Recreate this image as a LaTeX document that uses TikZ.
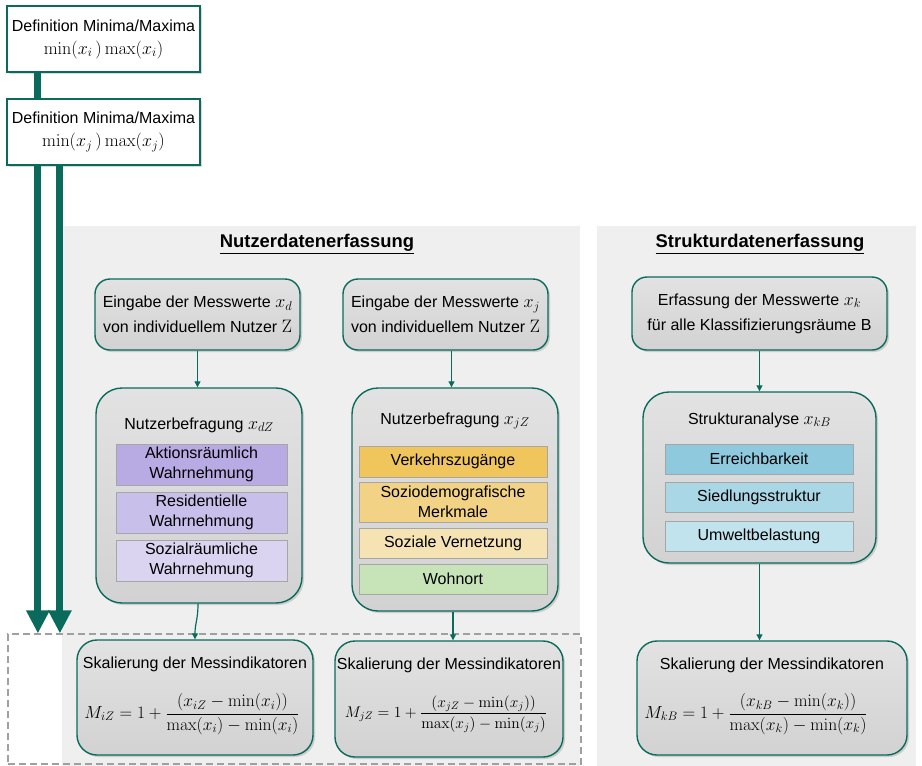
\IfFileExists{fix-cm.sty}{\RequirePackage{fix-cm}}{}
\documentclass[tikz,border=0pt]{standalone}
\usepackage[no-math]{fontspec}
\setmainfont{Liberation Sans}
\usetikzlibrary{arrows.meta,shadows,calc}

\definecolor{flowteal}{HTML}{0A6B5C}
\definecolor{panelgray}{HTML}{EFEFEF}
\definecolor{boxtop}{HTML}{E2E2E2}
\definecolor{boxbot}{HTML}{D2D2D2}
\definecolor{itemline}{HTML}{A6A6A6}
\definecolor{groupline}{HTML}{A0A0A0}
\definecolor{lilacA}{HTML}{B8ABE4}
\definecolor{lilacB}{HTML}{C8BFEA}
\definecolor{lilacC}{HTML}{DAD4F1}
\definecolor{goldA}{HTML}{EFC55C}
\definecolor{goldB}{HTML}{F2D386}
\definecolor{goldC}{HTML}{F5E3B4}
\definecolor{greenA}{HTML}{C6E4B7}
\definecolor{blueA}{HTML}{8EC9DD}
\definecolor{blueB}{HTML}{AAD7E6}
\definecolor{blueC}{HTML}{C1E3EE}

% larger maths inside the running text
\newcommand{\bm}[1]{{\fontsize{18}{20}\selectfont$#1$}}

\begin{document}
\begin{tikzpicture}[x=1pt,y=-1pt,
  every node/.style={font=\fontsize{16}{19}\selectfont, inner sep=0pt, align=center},
  panel/.style={fill=panelgray, draw=none},
  heading/.style={font=\bfseries\fontsize{18.4}{21}\selectfont},
  defbox/.style={draw=flowteal, line width=2.2pt, fill=white,
    minimum width=193pt, minimum height=66pt,
    drop shadow={shadow xshift=1.5pt, shadow yshift=-1.5pt, opacity=0.3}},
  stage/.style={draw=flowteal, line width=1.4pt, rounded corners=15pt,
    top color=boxtop, bottom color=boxbot,
    drop shadow={shadow xshift=2pt, shadow yshift=-2pt, opacity=0.3}},
  bigstage/.style={stage, rounded corners=26pt},
  item/.style={draw=itemline, line width=0.6pt, font=\fontsize{16}{20}\selectfont},
  formula/.style={font=\fontsize{17.5}{20}\selectfont},
  link/.style={draw=flowteal, line width=1.2pt, -{Triangle[length=6pt,width=6pt]}},
  bar/.style={draw=flowteal, line width=7pt},
  bigarrow/.style={bar, -{Triangle[length=23pt,width=22pt]}},
  group/.style={draw=groupline, line width=1.1pt, dash pattern=on 7pt off 4pt},
]
\useasboundingbox (0,0) rectangle (922,766);

% background panels
\node[panel, minimum width=518pt, minimum height=540pt] (userpanel) at (321,496) {};
\node[panel, minimum width=319pt, minimum height=540pt] (structpanel) at (756.5,496) {};
\node[heading] (userhead) at (317,244) {\underline{Nutzerdatenerfassung}};
\node[heading] (structhead) at (760,244) {\underline{Strukturdatenerfassung}};

% dashed frame around the two user scaling steps
\node[group, minimum width=573pt, minimum height=130pt] (scalegroup) at (294.5,699) {};

% min/max definitions
\node[defbox] (def1) at (103.5,39) {Definition Minima/Maxima\\[4pt]\bm{\min(x_i\,)\max(x_i)}};
\node[defbox] (def2) at (103.5,132) {Definition Minima/Maxima\\[4pt]\bm{\min(x_j\,)\max(x_j)}};

\draw[bar] ([xshift=32pt]def1.south west) -- ([xshift=32pt]def2.north west);
\draw[bigarrow] ([xshift=32pt]def2.south west) -- ([xshift=32pt]def2.south west |- scalegroup.north);
\draw[bigarrow] ([xshift=54pt]def2.south west) -- ([xshift=54pt]def2.south west |- scalegroup.north);

% input steps
\node[stage, minimum width=205pt, minimum height=71pt] (ein1) at (197.5,314.5)
  {Eingabe der Messwerte \bm{x_d}\\[6pt]von individuellem Nutzer \bm{\mathrm{Z}}};
\node[stage, minimum width=205pt, minimum height=71pt] (ein2) at (445.5,314.5)
  {Eingabe der Messwerte \bm{x_j}\\[6pt]von individuellem Nutzer \bm{\mathrm{Z}}};
\node[stage, minimum width=255pt, minimum height=73pt] (erf) at (759.5,313.5)
  {Erfassung der Messwerte \bm{x_k}\\[6pt]für alle Klassifizierungsräume B};

% survey / analysis steps
\node[bigstage, minimum width=206pt, minimum height=215pt] (bef1) at (199,495.5) {};
\node (bef1title) at (199,425) {Nutzerbefragung \bm{x_{dZ}}};
\node[item, fill=lilacA, minimum width=171pt, minimum height=41pt] (bef1a) at (201.5,464.5) {Aktionsräumlich\\Wahrnehmung};
\node[item, fill=lilacB, minimum width=171pt, minimum height=41pt] (bef1b) at (201.5,512.5) {Residentielle\\Wahrnehmung};
\node[item, fill=lilacC, minimum width=171pt, minimum height=41pt] (bef1c) at (201.5,560.5) {Sozialräumliche\\Wahrnehmung};

\node[bigstage, minimum width=206pt, minimum height=223pt] (bef2) at (455,499.5) {};
\node (bef2title) at (455,421) {Nutzerbefragung \bm{x_{jZ}}};
\node[item, fill=goldA, minimum width=188pt, minimum height=31pt] (bef2a) at (453,461.5) {Verkehrszugänge};
\node[item, fill=goldB, minimum width=188pt, minimum height=40pt] (bef2b) at (453,502) {Soziodemografische\\Merkmale};
\node[item, fill=goldC, minimum width=188pt, minimum height=30pt] (bef2c) at (453,543) {Soziale Vernetzung};
\node[item, fill=greenA, minimum width=188pt, minimum height=30pt] (bef2d) at (453,579) {Wohnort};

\node[bigstage, minimum width=233pt, minimum height=171pt] (sa) at (759.5,477.5) {};
\node (satitle) at (759.5,420) {Strukturanalyse \bm{x_{kB}}};
\node[item, fill=blueA, minimum width=188pt, minimum height=30pt] (saa) at (759,459) {Erreichbarkeit};
\node[item, fill=blueB, minimum width=188pt, minimum height=30pt] (sab) at (759,497) {Siedlungsstruktur};
\node[item, fill=blueC, minimum width=188pt, minimum height=30pt] (sac) at (759,536) {Umweltbelastung};

% scaling steps
\node[stage, rounded corners=20pt, minimum width=236pt, minimum height=115pt] (skal1) at (195,697.5) {};
\node (skal1title) at (195,664) {Skalierung der Messindikatoren};
\node[formula] (skal1eq) at (192,714) {$\displaystyle M_{iZ} = 1 + \frac{(x_{iZ} - \min(x_i))}{\max(x_i) - \min(x_i)}$};

\node[stage, rounded corners=20pt, minimum width=228pt, minimum height=116pt] (skal2) at (449,699) {};
\node (skal2title) at (449,665) {Skalierung der Messindikatoren};
\node[formula, font=\fontsize{15.5}{20}\selectfont] (skal2eq) at (446,714) {$\displaystyle M_{jZ} = 1 + \frac{\bigl(x_{jZ} - \min(x_j)\bigr)}{\max(x_j) - \min(x_j)}$};

\node[stage, rounded corners=20pt, minimum width=270pt, minimum height=114pt] (skal3) at (772,698) {};
\node (skal3title) at (772,665) {Skalierung der Messindikatoren};
\node[formula] (skal3eq) at (756,714) {$\displaystyle M_{kB} = 1 + \frac{(x_{kB} - \min(x_k))}{\max(x_k) - \min(x_k)}$};

% connectors
\draw[link] (ein1.south) -- (ein1.south |- bef1.north);
\draw[link] ([xshift=6pt]ein2.south) -- ([xshift=6pt]ein2.south |- bef2.north);
\draw[link] (erf.south) -- (erf.south |- sa.north);
\draw[link] ([xshift=-1pt]bef1.south) .. controls +(0,16) and +(0,-16) .. (skal1.north);
\draw[link] ([xshift=-2pt]bef2.south) -- ([xshift=-2pt]bef2.south |- skal2.north);
\draw[link] (sa.south) -- (sa.south |- skal3.north);
\end{tikzpicture}
\end{document}
